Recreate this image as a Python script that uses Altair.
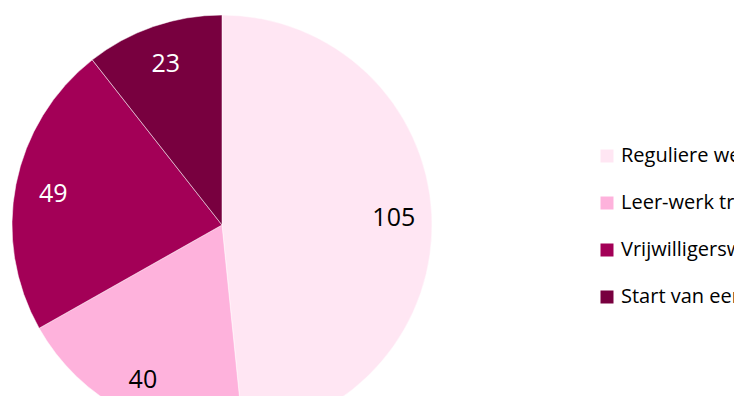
import altair as alt
import pandas as pd

categories = ["Reguliere werkplek", "Leer-werk traject", "Vrijwilligerswerk", "Start van een eigen bedrijf"]
values = [105, 40, 49, 23]
colors = ["#FFE6F3", "#FEB2DC", "#A30057", "#78003F"]

df = pd.DataFrame({"cat": categories, "value": values, "idx": list(range(len(values)))})

base = alt.Chart(df).encode(
    theta=alt.Theta("value:Q", stack=True),
    order=alt.Order("idx:Q"),
)

pie = base.mark_arc(outerRadius=210, stroke="white", strokeWidth=0.5).encode(
    x=alt.value(214),
    y=alt.value(217),
    color=alt.Color(
        "cat:N",
        scale=alt.Scale(domain=categories, range=colors),
        sort=categories,
        legend=alt.Legend(
            title=None,
            orient="none",
            legendX=589,
            legendY=138,
            symbolType="square",
            symbolSize=169,
            symbolStrokeWidth=0,
            labelFont="Open Sans",
            labelFontSize=20,
            labelColor="#000000",
            labelLimit=400,
            rowPadding=27,
            labelOffset=4,
        ),
    ),
)

labels = base.mark_text(radius=172, font="Open Sans", fontSize=25).encode(
    x=alt.value(214),
    y=alt.value(219),
    text=alt.Text("value:Q"),
    color=alt.condition(
        alt.FieldOneOfPredicate(field="cat", oneOf=[categories[2], categories[3]]),
        alt.value("white"),
        alt.value("black"),
    ),
)

chart = (pie + labels).properties(
    width=726, height=388, autosize=alt.AutoSizeParams(type="none"), padding=0
).configure_view(stroke=None)

chart.save("out.html", embed_options={"renderer": "svg", "actions": False})
